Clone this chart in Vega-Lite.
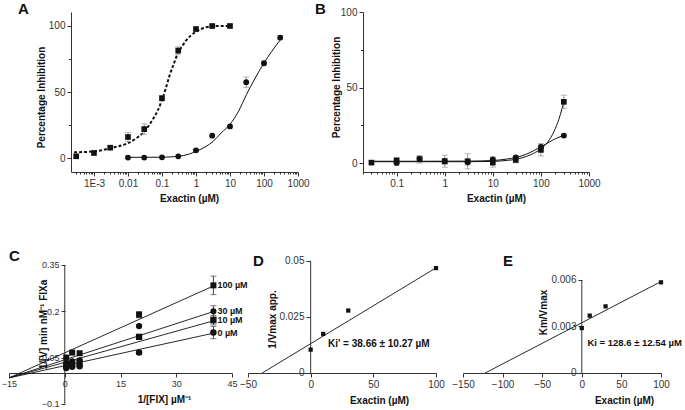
{
  "$schema": "https://vega.github.io/schema/vega-lite/v6.json",
  "background": "white",
  "padding": {"left": 1, "top": 2, "right": 0, "bottom": 0},
  "config": {
    "view": {"stroke": null},
    "font": "Liberation Sans",
    "axis": {"grid": false, "labelFont": "Liberation Sans", "labelFontSize": 10, "labelColor": "#333", "titleFont": "Liberation Sans", "titleFontSize": 10, "titleFontWeight": "bold", "titleColor": "#111", "domainColor": "#333", "tickColor": "#333", "tickSize": 4, "labelPadding": 2, "labelFlush": false, "labelOverlap": false, "tickCount": 100},
    "title": {"font": "Liberation Sans", "fontSize": 15, "fontWeight": "bold", "anchor": "start", "frame": "group", "offset": 0, "color": "#111", "baseline": "alphabetic"},
    "text": {"font": "Liberation Sans"}
  },
  "datasets": {
    "aPts": [
      {"x": 0.0003, "y": 1.3, "e": 0, "s": "sq"},
      {"x": 0.001, "y": 3.8, "e": 0, "s": "sq"},
      {"x": 0.003, "y": 7.8, "e": 0, "s": "sq"},
      {"x": 0.01, "y": 15.9, "e": 3.5, "s": "sq"},
      {"x": 0.03, "y": 21.9, "e": 4, "s": "sq"},
      {"x": 0.1, "y": 45.3, "e": 2, "s": "sq"},
      {"x": 0.3, "y": 81.4, "e": 2.8, "s": "sq"},
      {"x": 1, "y": 97.7, "e": 1.5, "s": "sq"},
      {"x": 3, "y": 100, "e": 1, "s": "sq"},
      {"x": 10, "y": 100, "e": 1, "s": "sq"},
      {"x": 0.01, "y": 0.3, "e": 0, "s": "ci"},
      {"x": 0.03, "y": 0.3, "e": 0, "s": "ci"},
      {"x": 0.1, "y": 0.5, "e": 0, "s": "ci"},
      {"x": 0.3, "y": 1.3, "e": 0, "s": "ci"},
      {"x": 1, "y": 5.8, "e": 0.8, "s": "ci"},
      {"x": 3, "y": 16.9, "e": 1, "s": "ci"},
      {"x": 10, "y": 23.9, "e": 1.2, "s": "ci"},
      {"x": 30, "y": 57.4, "e": 4, "s": "ci"},
      {"x": 100, "y": 71.8, "e": 1.5, "s": "ci"},
      {"x": 300, "y": 91.2, "e": 1.5, "s": "ci"}
    ],
    "aFit": [
      {"x": 0.00026, "y": 4.3, "s": "sq"},
      {"x": 0.001, "y": 5, "s": "sq"},
      {"x": 0.0031, "y": 7.5, "s": "sq"},
      {"x": 0.01, "y": 11.3, "s": "sq"},
      {"x": 0.0177, "y": 15, "s": "sq"},
      {"x": 0.03, "y": 20, "s": "sq"},
      {"x": 0.053, "y": 29, "s": "sq"},
      {"x": 0.075, "y": 36, "s": "sq"},
      {"x": 0.1, "y": 44, "s": "sq"},
      {"x": 0.13, "y": 53, "s": "sq"},
      {"x": 0.165, "y": 62, "s": "sq"},
      {"x": 0.22, "y": 71, "s": "sq"},
      {"x": 0.29, "y": 79, "s": "sq"},
      {"x": 0.4, "y": 85, "s": "sq"},
      {"x": 0.51, "y": 89, "s": "sq"},
      {"x": 0.7, "y": 92.7, "s": "sq"},
      {"x": 1, "y": 95.7, "s": "sq"},
      {"x": 1.4, "y": 97.7, "s": "sq"},
      {"x": 2, "y": 99, "s": "sq"},
      {"x": 3.2, "y": 99.8, "s": "sq"},
      {"x": 5, "y": 100, "s": "sq"},
      {"x": 10, "y": 100, "s": "sq"},
      {"x": 0.01, "y": 0.5, "s": "ci"},
      {"x": 0.1, "y": 0.6, "s": "ci"},
      {"x": 0.3, "y": 1.3, "s": "ci"},
      {"x": 0.6, "y": 2.8, "s": "ci"},
      {"x": 1, "y": 5, "s": "ci"},
      {"x": 2, "y": 8.8, "s": "ci"},
      {"x": 3.2, "y": 12.6, "s": "ci"},
      {"x": 5.5, "y": 19, "s": "ci"},
      {"x": 10, "y": 25.5, "s": "ci"},
      {"x": 17.5, "y": 35, "s": "ci"},
      {"x": 30.5, "y": 48, "s": "ci"},
      {"x": 55, "y": 60.5, "s": "ci"},
      {"x": 100, "y": 72, "s": "ci"},
      {"x": 167, "y": 80.6, "s": "ci"},
      {"x": 300, "y": 89.4, "s": "ci"}
    ],
    "bPts": [
      {"x": 0.03, "y": 0.4, "e": 1, "s": "sq"},
      {"x": 0.1, "y": 1.8, "e": 2, "s": "sq"},
      {"x": 0.3, "y": 2.6, "e": 2.5, "s": "sq"},
      {"x": 1, "y": 1.3, "e": 4, "s": "sq"},
      {"x": 3, "y": 1.3, "e": 5, "s": "sq"},
      {"x": 10, "y": 0.4, "e": 3, "s": "sq"},
      {"x": 30, "y": 2.2, "e": 2, "s": "sq"},
      {"x": 100, "y": 8.8, "e": 4, "s": "sq"},
      {"x": 300, "y": 40.6, "e": 4.4, "s": "sq"},
      {"x": 0.1, "y": 0.2, "e": 1.5, "s": "ci"},
      {"x": 0.3, "y": 2.9, "e": 1.5, "s": "ci"},
      {"x": 1, "y": 1.3, "e": 2, "s": "ci"},
      {"x": 3, "y": 0.7, "e": 2, "s": "ci"},
      {"x": 10, "y": 2.6, "e": 1.5, "s": "ci"},
      {"x": 30, "y": 3.8, "e": 1, "s": "ci"},
      {"x": 100, "y": 10.8, "e": 2, "s": "ci"},
      {"x": 300, "y": 18.3, "e": 1, "s": "ci"}
    ],
    "bFit": [
      {"x": 0.03, "y": 1.0, "s": "sq"},
      {"x": 0.3, "y": 1.0, "s": "sq"},
      {"x": 3, "y": 1.0, "s": "sq"},
      {"x": 10, "y": 1.2, "s": "sq"},
      {"x": 20, "y": 1.9, "s": "sq"},
      {"x": 30, "y": 2.6, "s": "sq"},
      {"x": 50, "y": 4.5, "s": "sq"},
      {"x": 70, "y": 6.5, "s": "sq"},
      {"x": 100, "y": 9.5, "s": "sq"},
      {"x": 150, "y": 15.5, "s": "sq"},
      {"x": 200, "y": 23, "s": "sq"},
      {"x": 250, "y": 31.5, "s": "sq"},
      {"x": 300, "y": 40.6, "s": "sq"},
      {"x": 0.03, "y": 1.3, "s": "ci"},
      {"x": 0.3, "y": 1.3, "s": "ci"},
      {"x": 3, "y": 1.4, "s": "ci"},
      {"x": 10, "y": 1.8, "s": "ci"},
      {"x": 20, "y": 2.8, "s": "ci"},
      {"x": 30, "y": 3.8, "s": "ci"},
      {"x": 50, "y": 6, "s": "ci"},
      {"x": 70, "y": 8.2, "s": "ci"},
      {"x": 100, "y": 10.8, "s": "ci"},
      {"x": 150, "y": 14, "s": "ci"},
      {"x": 200, "y": 16.2, "s": "ci"},
      {"x": 250, "y": 17.5, "s": "ci"},
      {"x": 300, "y": 18.3, "s": "ci"}
    ],
    "cPts": [
      {"x": 0.4, "y": 0.050, "e": 0, "s": "100"},
      {"x": 2, "y": 0.066, "e": 0, "s": "100"},
      {"x": 4, "y": 0.064, "e": 0, "s": "100"},
      {"x": 20, "y": 0.189, "e": 0.01, "s": "100"},
      {"x": 40, "y": 0.284, "e": 0.03, "s": "100"},
      {"x": 0.4, "y": 0.033, "e": 0, "s": "30"},
      {"x": 2, "y": 0.038, "e": 0, "s": "30"},
      {"x": 4, "y": 0.041, "e": 0, "s": "30"},
      {"x": 20, "y": 0.152, "e": 0.005, "s": "30"},
      {"x": 40, "y": 0.2, "e": 0.018, "s": "30"},
      {"x": 0.4, "y": 0.025, "e": 0, "s": "10"},
      {"x": 2, "y": 0.030, "e": 0, "s": "10"},
      {"x": 4, "y": 0.034, "e": 0, "s": "10"},
      {"x": 20, "y": 0.117, "e": 0.006, "s": "10"},
      {"x": 40, "y": 0.171, "e": 0.015, "s": "10"},
      {"x": 0.4, "y": 0.016, "e": 0, "s": "0"},
      {"x": 2, "y": 0.020, "e": 0, "s": "0"},
      {"x": 4, "y": 0.022, "e": 0, "s": "0"},
      {"x": 20, "y": 0.066, "e": 0.006, "s": "0"},
      {"x": 40, "y": 0.131, "e": 0.02, "s": "0"}
    ],
    "cFit": [
      {"x": -15, "y": -0.016, "s": "100"},
      {"x": 40, "y": 0.282, "s": "100"},
      {"x": -15, "y": -0.016, "s": "30"},
      {"x": 40, "y": 0.199, "s": "30"},
      {"x": -15, "y": -0.016, "s": "10"},
      {"x": 40, "y": 0.169, "s": "10"},
      {"x": -15, "y": -0.016, "s": "0"},
      {"x": 40, "y": 0.129, "s": "0"}
    ],
    "cLab": [
      {"x": 40, "y": 0.284, "t": "100 µM"},
      {"x": 40, "y": 0.2, "t": "30 µM"},
      {"x": 40, "y": 0.171, "t": "10 µM"},
      {"x": 40, "y": 0.131, "t": "0 µM"}
    ],
    "cAxis": [{"x": 0, "y": -0.1, "y2": 0.35}],
    "dPts": [
      {"x": 0, "y": 0.0104},
      {"x": 10, "y": 0.0174},
      {"x": 30, "y": 0.0278},
      {"x": 100, "y": 0.0467}
    ],
    "dFit": [{"x": -38.66, "y": 0}, {"x": 100, "y": 0.0468}],
    "dAxis": [{"x": 0, "y": 0, "y2": 0.05}],
    "dNote": [{"x": 13.8, "y": 0.0129, "t": "Ki' = 38.66 ± 10.27 µM"}],
    "ePts": [
      {"x": 0, "y": 0.0029},
      {"x": 10, "y": 0.0037},
      {"x": 30, "y": 0.0043},
      {"x": 100, "y": 0.00585}
    ],
    "eFit": [{"x": -122, "y": 0}, {"x": 100, "y": 0.0059}],
    "eAxis": [{"x": 0, "y": 0, "y2": 0.006}],
    "eNote": [{"x": 7.1, "y": 0.00194, "t": "Ki = 128.6 ± 12.54 µM"}]
  },
  "spacing": 46,
  "vconcat": [
    {
      "spacing": 8,
      "hconcat": [
        {"width": 1, "height": 160, "data": {"values": []}, "mark": "text"},
        {
          "spacing": 5,
          "hconcat": [
            {
              "width": 227, "height": 160,
              "title": {"text": "A", "dx": -53, "dy": 9},
              "layer": [
                {
                  "data": {"name": "aFit"},
                  "transform": [{"filter": "datum.s == 'sq'"}],
                  "mark": {"type": "line", "color": "#111", "strokeWidth": 2, "strokeDash": [3, 2], "interpolate": "monotone"},
                  "encoding": {
                    "x": {"field": "x", "type": "quantitative", "scale": {"type": "log", "domain": [0.000211, 1000], "nice": false},
                      "axis": {"title": "Exactin (µM)", "titleX": 118, "titleY": 21, "labelOverlap": false, "tickCount": 100,
                        "values": [0.0003,0.0004,0.0005,0.0006,0.0007,0.0008,0.0009,0.001,0.002,0.003,0.004,0.005,0.006,0.007,0.008,0.009,0.01,0.02,0.03,0.04,0.05,0.06,0.07,0.08,0.09,0.1,0.2,0.3,0.4,0.5,0.6,0.7,0.8,0.9,1,2,3,4,5,6,7,8,9,10,20,30,40,50,60,70,80,90,100,200,300,400,500,600,700,800,900,1000],
                        "labelExpr": "abs(log(datum.value)/LN10 - round(log(datum.value)/LN10)) < 0.01 ? (datum.value < 0.005 ? '1E-3' : format(datum.value, '~g')) : ''",
                        "tickSize": {"condition": {"test": "abs(log(datum.value)/LN10 - round(log(datum.value)/LN10)) < 0.01", "value": 4}, "value": 2}}},
                    "y": {"field": "y", "type": "quantitative", "scale": {"domain": [-10.6, 110.6], "nice": false, "zero": false},
                      "axis": {"title": "Percentage Inhibition", "titleX": -24.5, "titleY": 85, "values": [0, 25, 50, 75, 100], "labelOverlap": false, "tickCount": 100,
                        "labelExpr": "datum.value % 50 == 0 ? format(datum.value, 'd') : ''",
                        "tickSize": {"condition": {"test": "datum.value % 50 == 0", "value": 4}, "value": 2.5}}}
                  }
                },
                {
                  "data": {"name": "aFit"},
                  "transform": [{"filter": "datum.s == 'ci'"}],
                  "mark": {"type": "line", "color": "#111", "strokeWidth": 1, "interpolate": "monotone"},
                  "encoding": {"x": {"field": "x", "type": "quantitative"}, "y": {"field": "y", "type": "quantitative"}}
                },
                {
                  "data": {"name": "aPts"},
                  "transform": [{"filter": "datum.e > 0"}],
                  "mark": {"type": "errorbar", "ticks": {"size": 6}, "color": "#999"},
                  "encoding": {"x": {"field": "x", "type": "quantitative", "title": "Exactin (µM)"}, "y": {"field": "y", "type": "quantitative", "title": "Percentage Inhibition"}, "yError": {"field": "e"}}
                },
                {
                  "data": {"name": "aPts"},
                  "mark": {"type": "point", "filled": true, "color": "#111", "opacity": 1},
                  "encoding": {
                    "x": {"field": "x", "type": "quantitative"}, "y": {"field": "y", "type": "quantitative"},
                    "shape": {"field": "s", "type": "nominal", "scale": {"domain": ["sq", "ci"], "range": ["square", "circle"]}, "legend": null},
                    "size": {"field": "s", "type": "nominal", "scale": {"domain": ["sq", "ci"], "range": [32, 42]}, "legend": null}
                  }
                }
              ]
            },
            {
              "width": 226, "height": 160,
              "title": {"text": "B", "dx": -48, "dy": 14},
              "layer": [
                {
                  "data": {"name": "bFit"},
                  "mark": {"type": "line", "color": "#111", "strokeWidth": 1, "interpolate": "monotone"},
                  "encoding": {
                    "detail": {"field": "s"},
                    "x": {"field": "x", "type": "quantitative", "scale": {"type": "log", "domain": [0.02, 1000], "nice": false},
                      "axis": {"title": "Exactin (µM)", "titleX": 133, "titleY": 21, "labelOverlap": false, "tickCount": 100,
                        "values": [0.02,0.03,0.04,0.05,0.06,0.07,0.08,0.09,0.1,0.2,0.3,0.4,0.5,0.6,0.7,0.8,0.9,1,2,3,4,5,6,7,8,9,10,20,30,40,50,60,70,80,90,100,200,300,400,500,600,700,800,900,1000],
                        "labelExpr": "abs(log(datum.value)/LN10 - round(log(datum.value)/LN10)) < 0.01 ? format(datum.value, '~g') : ''",
                        "tickSize": {"condition": {"test": "abs(log(datum.value)/LN10 - round(log(datum.value)/LN10)) < 0.01", "value": 4}, "value": 2}}},
                    "y": {"field": "y", "type": "quantitative", "scale": {"domain": [-5.8, 100], "nice": false, "zero": false},
                      "axis": {"title": "Percentage Inhibition", "titleX": -22, "titleY": 75, "values": [0, 25, 50, 75, 100], "labelOverlap": false, "tickCount": 100,
                        "labelExpr": "datum.value % 50 == 0 ? format(datum.value, 'd') : ''",
                        "tickSize": {"condition": {"test": "datum.value % 50 == 0", "value": 4}, "value": 2.5}}}
                  }
                },
                {
                  "data": {"name": "bPts"},
                  "mark": {"type": "errorbar", "ticks": {"size": 6}, "color": "#999"},
                  "encoding": {"x": {"field": "x", "type": "quantitative", "title": "Exactin (µM)"}, "y": {"field": "y", "type": "quantitative", "title": "Percentage Inhibition"}, "yError": {"field": "e"}}
                },
                {
                  "data": {"name": "bPts"},
                  "mark": {"type": "point", "filled": true, "color": "#111", "opacity": 1},
                  "encoding": {
                    "x": {"field": "x", "type": "quantitative"}, "y": {"field": "y", "type": "quantitative"},
                    "shape": {"field": "s", "type": "nominal", "scale": {"domain": ["sq", "ci"], "range": ["square", "circle"]}, "legend": null},
                    "size": {"field": "s", "type": "nominal", "scale": {"domain": ["sq", "ci"], "range": [28, 34]}, "legend": null}
                  }
                }
              ]
            }
          ]
        }
      ]
    },
    {
      "spacing": -11,
      "hconcat": [
        {
          "width": 223, "height": 144,
          "title": {"text": "C", "dx": 0, "dy": 8},
          "layer": [
            {
              "data": {"name": "cFit"},
              "mark": {"type": "line", "color": "#111", "strokeWidth": 0.9},
              "encoding": {
                "detail": {"field": "s"},
                "x": {"field": "x", "type": "quantitative", "scale": {"domain": [-15, 45], "nice": false, "zero": false},
                  "axis": {"values": [-15, 0, 15, 30, 45], "format": "d", "tickCount": 100, "labelOverlap": false, "offset": -31, "title": "1/[FIX] µM⁻¹", "titleX": 155, "titleY": 21, "labelFontSize": 9}},
                "y": {"field": "y", "type": "quantitative", "scale": {"domain": [-0.1006, 0.3662], "nice": false, "zero": false},
                  "axis": {"values": [-0.1, 0.05, 0.2, 0.35], "tickCount": 100, "labelOverlap": false, "format": ".3~g", "offset": -56, "domain": false, "title": "1/[V] min nM⁻¹ FIXa", "titleX": -17, "titleY": 64, "labelFontSize": 9}}
              }
            },
            {
              "data": {"name": "cAxis"},
              "mark": {"type": "rule", "color": "#333", "strokeWidth": 1},
              "encoding": {"x": {"field": "x", "type": "quantitative"}, "y": {"field": "y", "type": "quantitative"}, "y2": {"field": "y2"}}
            },
            {
              "data": {"name": "cPts"},
              "transform": [{"filter": "datum.e > 0"}],
              "mark": {"type": "errorbar", "ticks": {"size": 6}, "color": "#444"},
              "encoding": {"x": {"field": "x", "type": "quantitative", "title": "1/[FIX] µM⁻¹"}, "y": {"field": "y", "type": "quantitative", "title": "1/[V] min nM⁻¹ FIXa"}, "yError": {"field": "e"}}
            },
            {
              "data": {"name": "cPts"},
              "mark": {"type": "point", "filled": true, "color": "#111", "opacity": 1},
              "encoding": {
                "x": {"field": "x", "type": "quantitative"}, "y": {"field": "y", "type": "quantitative"},
                "shape": {"field": "s", "type": "nominal", "scale": {"domain": ["100", "30", "10", "0"], "range": ["square", "triangle-up", "diamond", "circle"]}, "legend": null},
                "size": {"field": "s", "type": "nominal", "scale": {"domain": ["100", "30", "10", "0"], "range": [28, 28, 30, 34]}, "legend": null}
              }
            },
            {
              "data": {"name": "cLab"},
              "mark": {"type": "text", "align": "left", "baseline": "middle", "dx": 4, "fontSize": 9, "fontWeight": "bold", "color": "#111"},
              "encoding": {"x": {"field": "x", "type": "quantitative"}, "y": {"field": "y", "type": "quantitative"}, "text": {"field": "t"}}
            }
          ]
        },
        {
          "spacing": 6,
          "hconcat": [
            {
              "width": 188, "height": 144,
              "title": {"text": "D", "dx": 5, "dy": 17},
              "layer": [
                {
                  "data": {"name": "dFit"},
                  "mark": {"type": "line", "color": "#111", "strokeWidth": 0.9},
                  "encoding": {
                    "x": {"field": "x", "type": "quantitative", "scale": {"domain": [-50, 100], "nice": false, "zero": false},
                      "axis": {"values": [-50, 0, 50, 100], "format": "d", "tickCount": 100, "labelOverlap": false, "offset": -31, "title": "Exactin (µM)", "titleX": 131, "titleY": 22}},
                    "y": {"field": "y", "type": "quantitative", "scale": {"domain": [-0.0138, 0.0503], "nice": false, "zero": false},
                      "axis": {"values": [0, 0.025, 0.05], "tickCount": 100, "labelOverlap": false, "format": ".3~g", "offset": -62, "domain": false, "title": "1/Vmax app.", "titleX": -33, "titleY": 59}}
                  }
                },
                {
                  "data": {"name": "dAxis"},
                  "mark": {"type": "rule", "color": "#333", "strokeWidth": 1},
                  "encoding": {"x": {"field": "x", "type": "quantitative"}, "y": {"field": "y", "type": "quantitative"}, "y2": {"field": "y2"}}
                },
                {
                  "data": {"name": "dPts"},
                  "mark": {"type": "point", "shape": "square", "filled": true, "color": "#111", "opacity": 1, "size": 18},
                  "encoding": {"x": {"field": "x", "type": "quantitative"}, "y": {"field": "y", "type": "quantitative"}}
                },
                {
                  "data": {"name": "dNote"},
                  "mark": {"type": "text", "align": "left", "baseline": "middle", "fontSize": 10, "fontWeight": "bold", "color": "#111"},
                  "encoding": {"x": {"field": "x", "type": "quantitative"}, "y": {"field": "y", "type": "quantitative"}, "text": {"field": "t"}}
                }
              ]
            },
            {
              "width": 198, "height": 144,
              "title": {"text": "E", "dx": 40, "dy": 13},
              "layer": [
                {
                  "data": {"name": "eFit"},
                  "mark": {"type": "line", "color": "#111", "strokeWidth": 0.9},
                  "encoding": {
                    "x": {"field": "x", "type": "quantitative", "scale": {"domain": [-150, 100], "nice": false, "zero": false},
                      "axis": {"values": [-150, -100, -50, 0, 50, 100], "format": "d", "tickCount": 100, "labelOverlap": false, "offset": -31, "title": "Exactin (µM)", "titleX": 161, "titleY": 22}},
                    "y": {"field": "y", "type": "quantitative", "scale": {"domain": [-0.002, 0.00729], "nice": false, "zero": false},
                      "axis": {"values": [0, 0.003, 0.006], "tickCount": 100, "labelOverlap": false, "format": ".3~g", "offset": -119, "domain": false, "title": "Km/Vmax", "titleX": -34, "titleY": 52}}
                  }
                },
                {
                  "data": {"name": "eAxis"},
                  "mark": {"type": "rule", "color": "#333", "strokeWidth": 1},
                  "encoding": {"x": {"field": "x", "type": "quantitative"}, "y": {"field": "y", "type": "quantitative"}, "y2": {"field": "y2"}}
                },
                {
                  "data": {"name": "ePts"},
                  "mark": {"type": "point", "shape": "square", "filled": true, "color": "#111", "opacity": 1, "size": 18},
                  "encoding": {"x": {"field": "x", "type": "quantitative"}, "y": {"field": "y", "type": "quantitative"}}
                },
                {
                  "data": {"name": "eNote"},
                  "mark": {"type": "text", "align": "left", "baseline": "middle", "fontSize": 9.5, "fontWeight": "bold", "color": "#111"},
                  "encoding": {"x": {"field": "x", "type": "quantitative"}, "y": {"field": "y", "type": "quantitative"}, "text": {"field": "t"}}
                }
              ]
            }
          ]
        }
      ]
    }
  ]
}
